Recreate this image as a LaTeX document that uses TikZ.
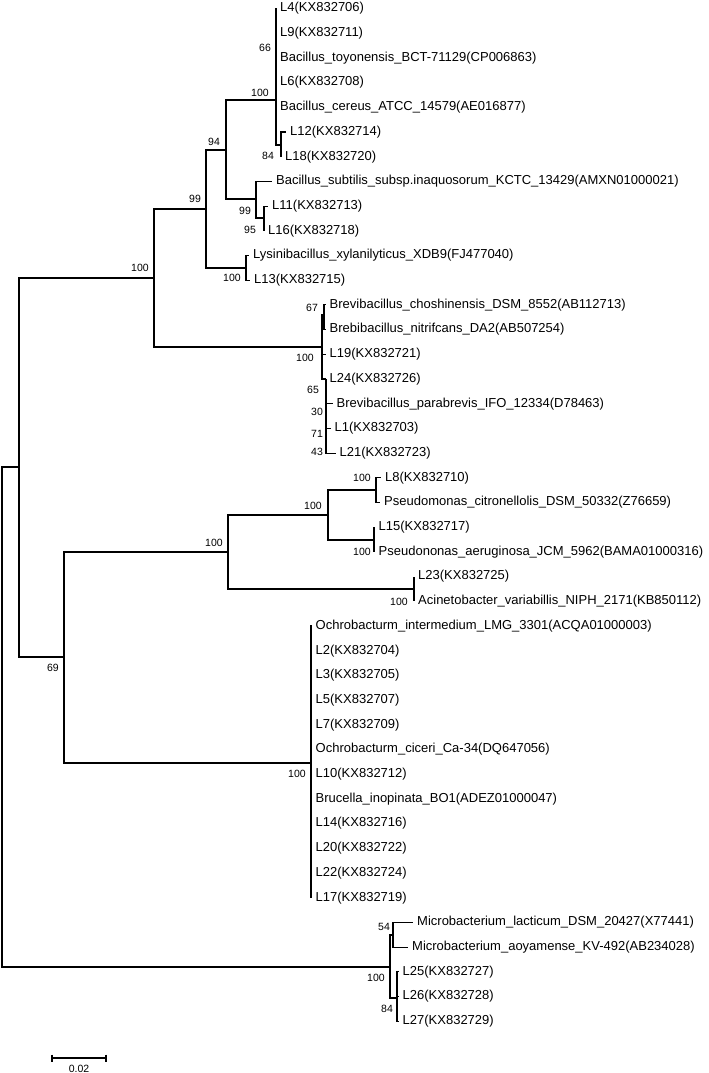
\documentclass[tikz,border=0pt]{standalone}
\usepackage{fontspec}
\setmainfont{Liberation Sans}
\usetikzlibrary{positioning}
\tikzset{
	branch/.style={line width=1.1pt},
	thickbar/.style={line width=2.2pt},
	leaf/.style={anchor=west, inner sep=0pt, xshift=4pt, font=\fontsize{13}{13}\selectfont},
	boot/.style={inner sep=0pt, font=\fontsize{10.5}{10.5}\selectfont}
}
\def\taxon(#1)(#2)#3{\coordinate (#1) at (#2); \node[leaf] (t#1) at (#1) {#3};}
\def\branch(#1)(#2){\draw[branch] (#1) |- (#2);}

\begin{document}
\begin{tikzpicture}[x=1pt, y=-1pt]
			%%%%% START %%%%%
			\useasboundingbox (0,0) rectangle (709,1073);
			
			\coordinate (root) at (2,717);
			\coordinate (nA) at (19,467);
			\coordinate (nFirm) at (154,278);
			\coordinate (n99) at (206,209);
			\coordinate (n94) at (226,150);
			\coordinate (nCer) at (276,100);
			\coordinate (n84) at (281,145);
			\coordinate (nSub) at (256,199);
			\coordinate (n95) at (264,218);
			\coordinate (nLys) at (246,268);
			\coordinate (nBrev) at (322,347);
			\coordinate (n67) at (324,315);
			\coordinate (n65) at (326,379);
			\coordinate (nB) at (64,657);
			\coordinate (nGam) at (228,552);
			\coordinate (nPse) at (328,515);
			\coordinate (nCit) at (376,490);
			\coordinate (nAer) at (374,540);
			\coordinate (nAci) at (414,589);
			\coordinate (nOch) at (311,763);
			\coordinate (nMic) at (390,967);
			\coordinate (n54) at (393,935);
			\coordinate (nL25) at (397,998);
			
			\taxon(L4)(276,8.5){L4(KX832706)}
			\taxon(L9)(276,33.2){L9(KX832711)}
			\taxon(Bt)(276,57.9){Bacillus\_toyonensis\_BCT-71129(CP006863)}
			\taxon(L6)(276,82.6){L6(KX832708)}
			\taxon(Bc)(276,107.3){Bacillus\_cereus\_ATCC\_14579(AE016877)}
			\taxon(L12)(286,132){L12(KX832714)}
			\taxon(L18)(281,156.7){L18(KX832720)}
			\taxon(Bsub)(272,181.4){Bacillus\_subtilis\_subsp.inaquosorum\_KCTC\_13429(AMXN01000021)}
			\taxon(L11)(268,206.1){L11(KX832713)}
			\taxon(L16)(264,230.8){L16(KX832718)}
			\taxon(Lys)(249,255.5){Lysinibacillus\_xylanilyticus\_XDB9(FJ477040)}
			\taxon(L13)(250,280.2){L13(KX832715)}
			\taxon(Bcho)(325.5,304.9){Brevibacillus\_choshinensis\_DSM\_8552(AB112713)}
			\taxon(Bnit)(325.5,329.6){Brebibacillus\_nitrifcans\_DA2(AB507254)}
			\taxon(L19)(325.5,354.3){L19(KX832721)}
			\taxon(L24)(325.5,379){L24(KX832726)}
			\taxon(Bpara)(332.5,403.7){Brevibacillus\_parabrevis\_IFO\_12334(D78463)}
			\taxon(L1)(330.5,428.4){L1(KX832703)}
			\taxon(L21)(335.5,453.1){L21(KX832723)}
			
			\taxon(L8)(381,477.8){L8(KX832710)}
			\taxon(Pc)(380,502.5){Pseudomonas\_citronellolis\_DSM\_50332(Z76659)}
			\taxon(L15)(374.5,527.2){L15(KX832717)}
			\taxon(Pa)(374.5,551.9){Pseudononas\_aeruginosa\_JCM\_5962(BAMA01000316)}
			\taxon(L23)(414,576.6){L23(KX832725)}
			\taxon(Av)(414,601.3){Acinetobacter\_variabillis\_NIPH\_2171(KB850112)}
			
			\taxon(Oi)(311.5,626){Ochrobacturm\_intermedium\_LMG\_3301(ACQA01000003)}
			\taxon(L2)(311.5,650.7){L2(KX832704)}
			\taxon(L3)(311.5,675.4){L3(KX832705)}
			\taxon(L5)(311.5,700.1){L5(KX832707)}
			\taxon(L7)(311.5,724.8){L7(KX832709)}
			\taxon(Oc)(311.5,749.5){Ochrobacturm\_ciceri\_Ca-34(DQ647056)}
			\taxon(L10)(311.5,774.2){L10(KX832712)}
			\taxon(Bi)(311.5,798.9){Brucella\_inopinata\_BO1(ADEZ01000047)}
			\taxon(L14)(311.5,823.6){L14(KX832716)}
			\taxon(L20)(311.5,848.3){L20(KX832722)}
			\taxon(L22)(311.5,873){L22(KX832724)}
			\taxon(L17)(311.5,897.7){L17(KX832719)}
			
			\taxon(Mlac)(413,922.4){Microbacterium\_lacticum\_DSM\_20427(X77441)}
			\taxon(Maoy)(408,947.1){Microbacterium\_aoyamense\_KV-492(AB234028)}
			\taxon(L25)(398.5,971.8){L25(KX832727)}
			\taxon(L26)(398.5,996.5){L26(KX832728)}
			\taxon(L27)(398.5,1021.2){L27(KX832729)}
			
			\branch(root)(nA)
			\branch(root)(nMic)
			\branch(nA)(nFirm)
			\branch(nA)(nB)
			
			\branch(nFirm)(n99)
			\branch(nFirm)(nBrev)
			\branch(n99)(n94)
			\branch(n99)(nLys)
			\branch(n94)(nCer)
			\branch(n94)(nSub)
			\branch(nCer)(L4)
			\branch(nCer)(L9)
			\branch(nCer)(Bt)
			\branch(nCer)(L6)
			\branch(nCer)(Bc)
			\branch(nCer)(n84)
			\draw[thickbar] (Bt) -- (Bc);
			\branch(n84)(L12)
			\branch(n84)(L18)
			\branch(nSub)(Bsub)
			\branch(nSub)(n95)
			\branch(n95)(L11)
			\branch(n95)(L16)
			\branch(nLys)(Lys)
			\branch(nLys)(L13)
			
			\branch(nBrev)(n67)
			\branch(nBrev)(L19)
			\branch(nBrev)(L24)
			\branch(nBrev)(n65)
			\branch(n67)(Bcho)
			\branch(n67)(Bnit)
			\branch(n65)(Bpara)
			\branch(n65)(L1)
			\branch(n65)(L21)
			\draw[thickbar] (n65 |- Bpara) -- (n65 |- L1);
			
			\branch(nB)(nGam)
			\branch(nB)(nOch)
			\branch(nGam)(nPse)
			\branch(nGam)(nAci)
			\branch(nPse)(nCit)
			\branch(nPse)(nAer)
			\branch(nCit)(L8)
			\branch(nCit)(Pc)
			\branch(nAer)(L15)
			\branch(nAer)(Pa)
			\branch(nAci)(L23)
			\branch(nAci)(Av)
			
			\branch(nOch)(Oi)
			\branch(nOch)(L2)
			\branch(nOch)(L3)
			\branch(nOch)(L5)
			\branch(nOch)(L7)
			\branch(nOch)(Oc)
			\branch(nOch)(L10)
			\branch(nOch)(Bi)
			\branch(nOch)(L14)
			\branch(nOch)(L20)
			\branch(nOch)(L22)
			\branch(nOch)(L17)
			
			\branch(nMic)(n54)
			\branch(nMic)(nL25)
			\branch(n54)(Mlac)
			\branch(n54)(Maoy)
			\branch(nL25)(L25)
			\branch(nL25)(L26)
			\branch(nL25)(L27)
			
			% bootstrap values
			\node[boot] (b66) at (265,48) {66};
			\node[boot] (bCer) at (260,93) {100};
			\node[boot] (b84) at (268,156) {84};
			\node[boot] (b94) at (214,142) {94};
			\node[boot] (bSub) at (245,211) {99};
			\node[boot] (b95) at (250,230) {95};
			\node[boot] (b99) at (195,199) {99};
			\node[boot] (bLys) at (232,278) {100};
			\node[boot] (bFirm) at (140,268) {100};
			\node[boot] (b67) at (312,308) {67};
			\node[boot] (bBrev) at (305,358) {100};
			\node[boot] (b65) at (313,390) {65};
			\node[boot] (b30) at (317,412) {30};
			\node[boot] (b71) at (317,434) {71};
			\node[boot] (b43) at (317,452) {43};
			\node[boot] (bCit) at (362,478) {100};
			\node[boot] (bPse) at (313,506) {100};
			\node[boot] (bGam) at (214,543) {100};
			\node[boot] (bAer) at (362,552) {100};
			\node[boot] (bAci) at (399,602) {100};
			\node[boot] (b69) at (53,668) {69};
			\node[boot] (bOch) at (297,774) {100};
			\node[boot] (b54) at (384,927) {54};
			\node[boot] (bMic) at (376,978) {100};
			\node[boot] (b84m) at (387,1009) {84};
			
			% scale bar
			\coordinate (sbL) at (52,1058);
			\coordinate (sbR) at (106,1058);
			\draw[branch] (sbL) -- (sbR);
			\draw[branch] ([yshift=3.5pt]sbL) -- ([yshift=-3.5pt]sbL);
			\draw[branch] ([yshift=3.5pt]sbR) -- ([yshift=-3.5pt]sbR);
			\node[boot] (sbT) at (79,1069) {0.02};
			
			%%%%% END %%%%%
\end{tikzpicture}
\end{document}
